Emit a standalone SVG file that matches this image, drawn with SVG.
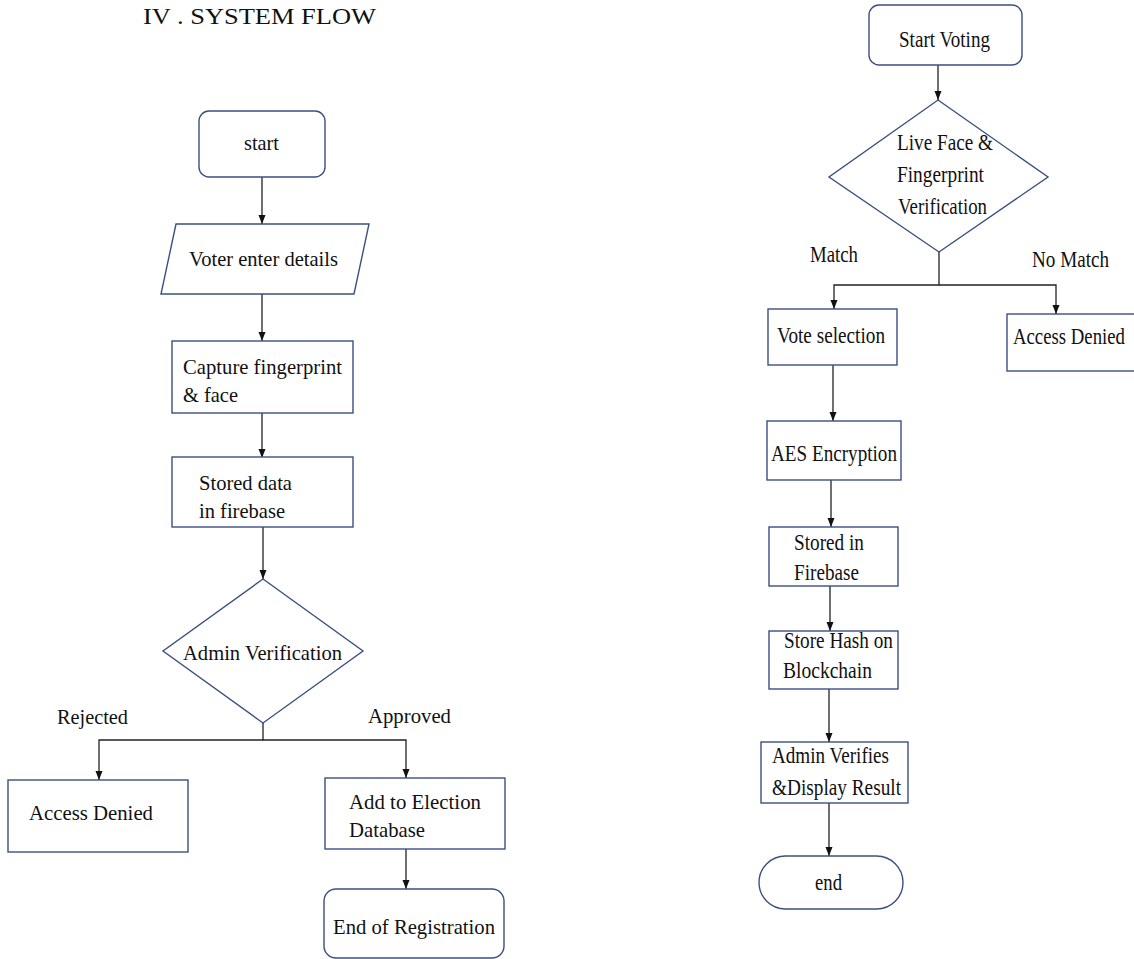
<svg xmlns="http://www.w3.org/2000/svg" width="1134" height="959" viewBox="0 0 1134 959">
<style>
.box{fill:#fff;stroke:#3b5080;stroke-width:1.4}
.ln{fill:none;stroke:#222;stroke-width:1.3;marker-end:url(#ah)}
text{font-family:"Liberation Serif","Times New Roman",serif;fill:#111}
.l{font-family:"Liberation Serif","Times New Roman",serif;font-size:21px}
.r{font-family:"Liberation Serif","Times New Roman",serif;font-size:23px}
</style>
<defs>
<marker id="ah" markerUnits="userSpaceOnUse" markerWidth="10" markerHeight="8" refX="9" refY="3.5" orient="auto">
<path d="M0,0 L9,3.5 L0,7 z" fill="#111"/>
</marker>
</defs>
<rect width="1134" height="959" fill="#fff"/>
<text x="143" y="24" font-family="Liberation Serif, serif" font-size="24" textLength="233" lengthAdjust="spacingAndGlyphs">IV . SYSTEM FLOW</text>

<g id="connectors">
<path class="ln" d="M262,177 V224"/>
<path class="ln" d="M262,294 V341"/>
<path class="ln" d="M262,413 V458"/>
<path class="ln" d="M263,527 V579"/>
<path class="ln" d="M263,723 V740 H99 V780"/>
<path class="ln" d="M263,740 H406 V778"/>
<path class="ln" d="M406,849 V889"/>
<path class="ln" d="M938,65 V100"/>
<path class="ln" d="M939,252 V285 H834 V309"/>
<path class="ln" d="M939,285 H1056 V314"/>
<path class="ln" d="M833,365 V421"/>
<path class="ln" d="M831,480 V527"/>
<path class="ln" d="M830,586 V631"/>
<path class="ln" d="M829,689 V742"/>
<path class="ln" d="M829,803 V856"/>
</g>

<g id="start">
<rect class="box" x="199" y="111" width="126" height="66" rx="10"/>
<text class="l" x="244" y="150" textLength="35" lengthAdjust="spacingAndGlyphs">start</text>
</g>
<g id="voter-details">
<polygon class="box" points="176,224 369,224 354,294 161,294"/>
<text class="l" x="189" y="266" textLength="149" lengthAdjust="spacingAndGlyphs">Voter enter details</text>
</g>
<g id="capture">
<rect class="box" x="172" y="341" width="181" height="72"/>
<text class="l" x="183" y="374" textLength="159" lengthAdjust="spacingAndGlyphs">Capture fingerprint</text>
<text class="l" x="183" y="402" textLength="55" lengthAdjust="spacingAndGlyphs">&amp; face</text>
</g>
<g id="stored-data">
<rect class="box" x="172" y="457" width="181" height="70"/>
<text class="l" x="199" y="490" textLength="93" lengthAdjust="spacingAndGlyphs">Stored data</text>
<text class="l" x="199" y="518" textLength="86" lengthAdjust="spacingAndGlyphs">in firebase</text>
</g>
<g id="admin-verification">
<polygon class="box" points="263,579 363,651 263,723 163,651"/>
<text class="l" x="183" y="660" textLength="159" lengthAdjust="spacingAndGlyphs">Admin Verification</text>
</g>
<text class="l" x="57" y="724" textLength="71" lengthAdjust="spacingAndGlyphs">Rejected</text>
<text class="l" x="368" y="723" textLength="83" lengthAdjust="spacingAndGlyphs">Approved</text>
<g id="access-denied-1">
<rect class="box" x="8" y="780" width="180" height="72"/>
<text class="l" x="29" y="820" textLength="124" lengthAdjust="spacingAndGlyphs">Access Denied</text>
</g>
<g id="add-election">
<rect class="box" x="325" y="778" width="180" height="71"/>
<text class="l" x="349" y="809" textLength="132" lengthAdjust="spacingAndGlyphs">Add to Election</text>
<text class="l" x="349" y="837" textLength="76" lengthAdjust="spacingAndGlyphs">Database</text>
</g>
<g id="end-registration">
<rect class="box" x="324" y="889" width="180" height="69" rx="12"/>
<text class="l" x="333" y="934" textLength="162" lengthAdjust="spacingAndGlyphs">End of Registration</text>
</g>

<g id="start-voting">
<rect class="box" x="869" y="5" width="153" height="60" rx="10"/>
<text class="r" x="899" y="47" textLength="91" lengthAdjust="spacingAndGlyphs">Start Voting</text>
</g>
<g id="live-verification">
<polygon class="box" points="938,100 1048,177 939,252 829,177"/>
<text class="r" x="897" y="150" textLength="96" lengthAdjust="spacingAndGlyphs">Live Face &amp;</text>
<text class="r" x="897" y="182" textLength="87" lengthAdjust="spacingAndGlyphs">Fingerprint</text>
<text class="r" x="898" y="214" textLength="89" lengthAdjust="spacingAndGlyphs">Verification</text>
</g>
<text class="r" x="810" y="262" textLength="48" lengthAdjust="spacingAndGlyphs">Match</text>
<text class="r" x="1032" y="267" textLength="77" lengthAdjust="spacingAndGlyphs">No Match</text>
<g id="vote-selection">
<rect class="box" x="768" y="309" width="129" height="56"/>
<text class="r" x="777" y="343" textLength="108" lengthAdjust="spacingAndGlyphs">Vote selection</text>
</g>
<g id="access-denied-2">
<rect class="box" x="1007" y="314" width="135" height="57"/>
<text class="r" x="1013" y="344" textLength="112" lengthAdjust="spacingAndGlyphs">Access Denied</text>
</g>
<g id="aes">
<rect class="box" x="767" y="421" width="134" height="59"/>
<text class="r" x="771" y="461" textLength="126" lengthAdjust="spacingAndGlyphs">AES Encryption</text>
</g>
<g id="stored-firebase">
<rect class="box" x="769" y="527" width="129" height="59"/>
<text class="r" x="794" y="550" textLength="70" lengthAdjust="spacingAndGlyphs">Stored in</text>
<text class="r" x="794" y="580" textLength="65" lengthAdjust="spacingAndGlyphs">Firebase</text>
</g>
<g id="store-hash">
<rect class="box" x="769" y="631" width="129" height="58"/>
<text class="r" x="784" y="648" textLength="109" lengthAdjust="spacingAndGlyphs">Store Hash on</text>
<text class="r" x="783" y="678" textLength="89" lengthAdjust="spacingAndGlyphs">Blockchain</text>
</g>
<g id="admin-verifies">
<rect class="box" x="761" y="742" width="147" height="61"/>
<text class="r" x="772" y="763" textLength="117" lengthAdjust="spacingAndGlyphs">Admin Verifies</text>
<text class="r" x="772" y="795" textLength="129" lengthAdjust="spacingAndGlyphs">&amp;Display Result</text>
</g>
<g id="end">
<rect class="box" x="759" y="856" width="144" height="53" rx="26.5"/>
<text class="r" x="815" y="890" textLength="27" lengthAdjust="spacingAndGlyphs">end</text>
</g>
</svg>
